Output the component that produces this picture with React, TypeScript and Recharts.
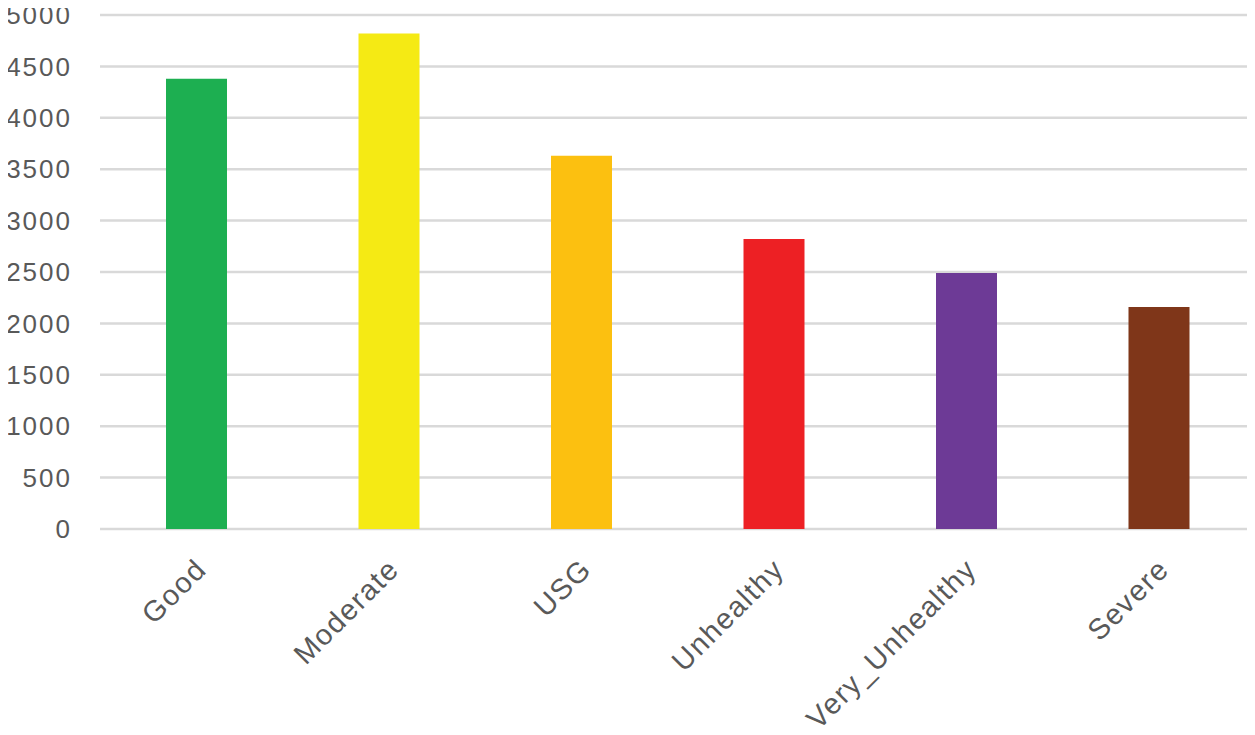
import React from 'react';
import { BarChart, Bar, XAxis, YAxis, CartesianGrid, Cell } from 'recharts';

// AQI category counts
const categories = ['Good', 'Moderate', 'USG', 'Unhealthy', 'Very_Unhealthy', 'Severe'];
const counts = [4380, 4820, 3630, 2820, 2490, 2160];
const barColors = ['#1DAF51', '#F5EA14', '#FCC010', '#ED2024', '#6D3A96', '#7F3619'];
const yTicks = [0, 500, 1000, 1500, 2000, 2500, 3000, 3500, 4000, 4500, 5000];

const data = categories.map((name, i) => ({ name, value: counts[i] }));

const FONT = '"Liberation Sans", Arial, sans-serif';

const XTick = ({ x, y, payload }: any) => (
    <text
        x={x + 12}
        y={y + 42}
        transform={`rotate(-45, ${x + 12}, ${y + 42})`}
        textAnchor="end"
        fill="#595959"
        fontSize={29}
        fontFamily={FONT}
        letterSpacing={1.5}
    >
        {payload.value}
    </text>
);

export default function App() {
    return (
        <div style={{ margin: -8, width: 1255, height: 735, background: '#fff' }}>
            <BarChart
                width={1255}
                height={735}
                data={data}
                margin={{ top: 15, right: 0, left: 0, bottom: 0 }}
                barCategoryGap={0}
            >
                <CartesianGrid vertical={false} stroke="#d9d9d9" strokeWidth={2.5} />
                <XAxis
                    dataKey="name"
                    height={206}
                    axisLine={false}
                    tickLine={false}
                    tickSize={0}
                    tickMargin={0}
                    interval={0}
                    tick={<XTick />}
                />
                <YAxis
                    width={100}
                    domain={[0, 5000]}
                    ticks={yTicks}
                    axisLine={false}
                    tickLine={false}
                    tickSize={0}
                    tickMargin={28}
                    tick={{ fill: '#595959', fontSize: 26, fontFamily: FONT, letterSpacing: 2 }}
                />
                <Bar dataKey="value" barSize={61} isAnimationActive={false}>
                    {data.map((entry, index) => (
                        <Cell key={`cell-${index}`} fill={barColors[index]} />
                    ))}
                </Bar>
            </BarChart>
        </div>
    );
}
